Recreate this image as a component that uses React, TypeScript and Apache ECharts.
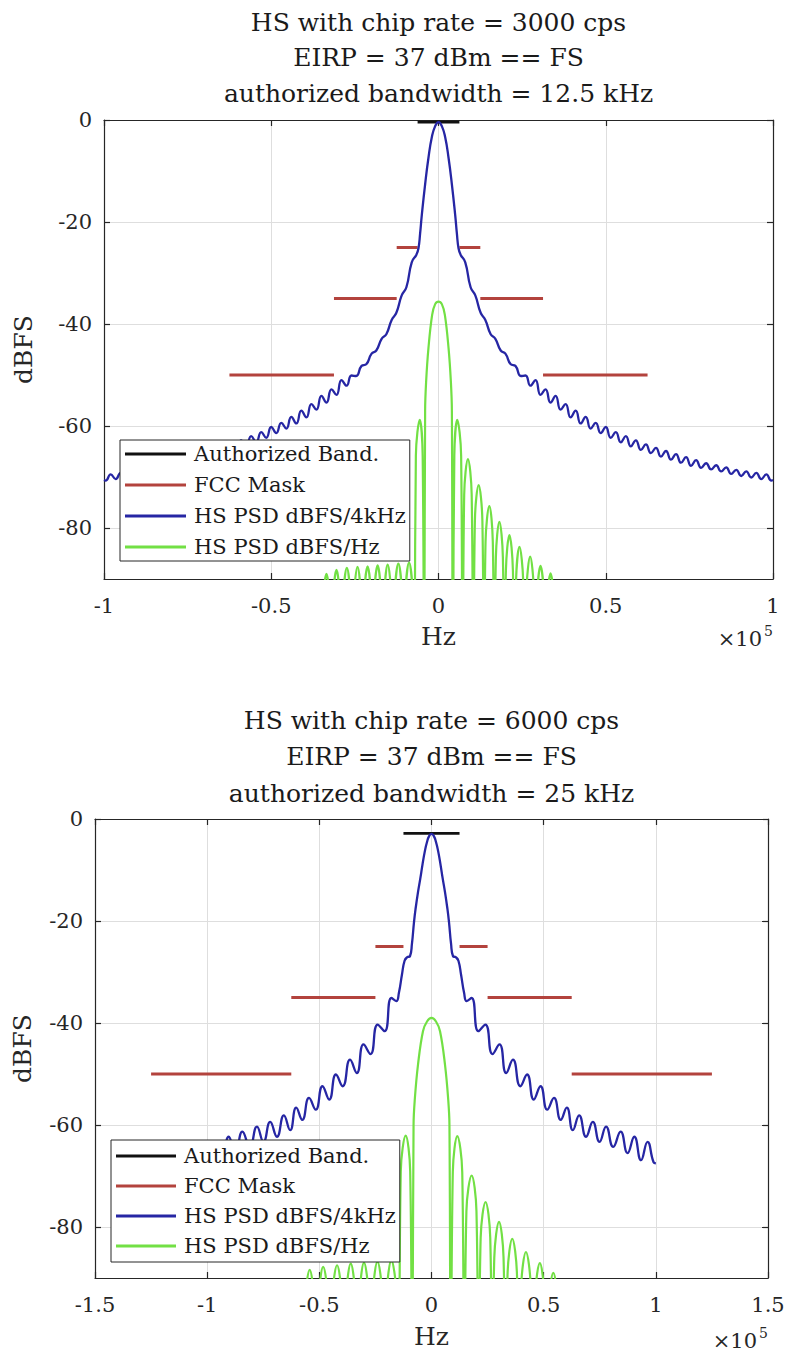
import React, { useEffect, useRef } from 'react';
import * as echarts from 'echarts';

const FONT = '"DejaVu Serif", "Liberation Serif", serif';
const AXIS_COLOR = '#262626';
const GRID_COLOR = '#dedede';
const C_BAND = '#111111';
const C_MASK = '#b3433d';
const C_BLUE = '#2626a4';
const C_GREEN = '#72e044';

const TOP_TITLE = ['HS with chip rate = 3000 cps', 'EIRP = 37 dBm == FS', 'authorized bandwidth = 12.5 kHz'];
const BOT_TITLE = ['HS with chip rate = 6000 cps', 'EIRP = 37 dBm == FS', 'authorized bandwidth = 25 kHz'];
const LEGEND_NAMES = ['Authorized Band.', 'FCC Mask', 'HS PSD dBFS/4kHz', 'HS PSD dBFS/Hz'];

// tick labels (x in units of 1e5 Hz, y in dBFS)
const TOP_X_TICKS = [-1, -0.5, 0, 0.5, 1];
const BOT_X_TICKS = [-1.5, -1, -0.5, 0, 0.5, 1, 1.5];
const Y_TICKS = [-80, -60, -40, -20, 0];
const Y_MIN = -90;
const Y_MAX = 0;

// authorized band [kHz from, kHz to, dB]
const TOP_BAND = [-6.25, 6.25, -0.4];
const BOT_BAND = [-12.5, 12.5, -2.8];

// FCC mask segments [kHz from, kHz to, dB]
const TOP_MASK = [
  [-62.5, -31.25, -50], [-31.25, -12.5, -35], [-12.5, -6.25, -25],
  [6.25, 12.5, -25], [12.5, 31.25, -35], [31.25, 62.5, -50],
];
const BOT_MASK = [
  [-125, -62.5, -50], [-62.5, -25, -35], [-25, -12.5, -25],
  [12.5, 25, -25], [25, 62.5, -35], [62.5, 125, -50],
];

// HS PSD dBFS/4kHz, one half (kHz >= 0); the curve is symmetric about 0
const BLUE_TOP_F = [0, 1, 2, 3, 4, 5, 5.5, 6, 6.6, 8, 9.6, 11, 12.6, 14, 15.6, 17, 18.6, 20, 21.6, 23, 24.6, 26,
  27.5, 29, 30.5, 32, 33.5, 35, 36.5, 38, 39.5, 41, 42.5, 44, 45.5, 47, 48.5, 50, 51.5, 53, 54.5, 56, 57.5, 59,
  60.5, 62, 63.5, 65, 66.5, 68, 69.5, 71, 72.5, 74, 75.5, 77, 78.5, 80, 81.5, 83, 84.5, 86, 87.5, 89, 90.5, 92,
  93.5, 95, 96.5, 98, 99.5, 100];
const BLUE_TOP_DB = [-0.4, -1.2, -3.4, -7.4, -12.6, -18.7, -22.3, -25.2, -26.4, -27.9, -32.8, -34.4, -37.8, -39.2,
  -42.0, -42.9, -45.2, -45.8, -47.9, -48.2, -50.2, -50.1,
  -52.1, -51.0, -53.9, -52.8, -55.4, -54.1, -56.8, -55.7, -58.3, -57.0, -59.5, -58.2, -60.5, -59.4, -61.4, -60.2,
  -62.3, -61.2, -63.2, -62.0, -64.0, -62.8, -64.7, -63.6, -65.3, -64.3, -66.0, -64.9, -66.6, -65.5, -67.2, -66.1,
  -67.8, -66.7, -68.2, -67.3, -68.5, -67.7, -68.9, -68.1, -69.4, -68.6, -69.8, -68.9, -70.1, -69.2, -70.4, -69.5,
  -70.7, -70.6];

const BLUE_BOT_F = [0, 1, 2, 3, 4, 5, 6, 7, 7.8, 8.7, 9.6, 10.8, 12, 13.2, 14.5, 15.7, 17.9,
  20.9, 24, 27.2, 30.3, 33.3, 36.3, 39.6, 42.6, 45.6, 48.6, 51.6, 54.6, 57.6, 60.3, 63, 65.8, 68.9, 71.9, 74.9,
  77.8, 81, 84.3, 87.4, 90.4, 93.4, 96.3, 99, 100];
const BLUE_BOT_DB = [-2.9, -3.3, -4.5, -6.4, -8.9, -11.7, -14.3, -17.3, -20.2, -24.4, -26.9, -27.1, -27.8, -30.6,
  -34.0, -35.7, -35.1,
  -41.6, -40.3, -46.1, -44.2, -49.8, -47.2, -52.4, -50.1, -55.0, -52.4, -57.0, -54.7, -59.0, -56.6, -61.0, -58.1,
  -62.3, -59.4, -63.3, -60.3, -64.3, -61.3, -65.5, -62.3, -66.9, -63.3, -67.3, -67.5];

// HS PSD dBFS/Hz: main lobe (one half, symmetric), then side lobes between nulls:
// peak level and the level on the lobe's steep walls, right (R) and left (L) of 0
const NULL_DB = -120;
const WALL_FRAC = 0.15; // where the wall level is read, as a fraction of the lobe width from each null
const GREEN_TOP_MAIN_F = [0, 1, 1.9, 3.0, 3.7, 4.0];
const GREEN_TOP_MAIN_DB = [-35.6, -36.1, -38.2, -44.7, -51.3, -57];
const GREEN_TOP_NULL_F = [4.3, 7.2, 10.4, 13.6, 16.7, 19.7, 22.7, 25.8, 29.0, 32.0, 35.0];
const GREEN_TOP_PEAK_F = [5.6, 8.8, 12.0, 15.2, 18.2, 21.2, 24.2, 27.4, 30.5, 33.5];
const GREEN_TOP_PEAK_R_DB = [-58.8, -66.5, -71.6, -75.7, -78.8, -81.4, -83.7, -85.6, -87.4, -88.9];
const GREEN_TOP_WALL_R_DB = [-65.8, -73.5, -78.6, -82.7, -85.8, -88.4, -90.7, -92.6, -94.4, -95.9];
const GREEN_TOP_PEAK_L_DB = [-58.8, -86.8, -87.0, -87.2, -87.3, -87.5, -87.6, -87.8, -88.2, -89.0];
const GREEN_TOP_WALL_L_DB = [-65.8, -93.8, -94.0, -94.2, -94.3, -94.5, -94.6, -94.8, -95.2, -96.0];

const GREEN_BOT_MAIN_F = [0, 2, 3.8, 6.0, 7.4, 8.0];
const GREEN_BOT_MAIN_DB = [-39.0, -39.7, -41.6, -48.1, -54.7, -60];
const GREEN_BOT_NULL_F = [8.6, 14.6, 21.0, 27.1, 33.0, 39.0, 45.2, 51.3, 57.3];
const GREEN_BOT_PEAK_F = [11.5, 17.9, 24.1, 30.1, 36.0, 42.1, 48.3, 54.3];
const GREEN_BOT_PEAK_R_DB = [-62.2, -69.9, -75.1, -79.0, -82.3, -84.9, -87.1, -89.0];
const GREEN_BOT_WALL_R_DB = [-69.2, -76.9, -82.1, -86.0, -89.3, -91.9, -94.1, -96.0];
const GREEN_BOT_PEAK_L_DB = [-62.1, -86.6, -86.8, -87.0, -87.2, -87.5, -87.8, -88.4];
const GREEN_BOT_WALL_L_DB = [-69.1, -93.6, -93.8, -94.0, -94.2, -94.5, -94.8, -95.4];

const HZ = 1000; // kHz -> Hz

function mirrored(f: number[], db: number[]) {
  const pts: number[][] = [];
  for (let i = f.length - 1; i > 0; i--) pts.push([-f[i] * HZ, db[i]]);
  for (let i = 0; i < f.length; i++) pts.push([f[i] * HZ, db[i]]);
  return pts;
}

function greenSide(sign: number, mainF: number[], mainDb: number[], nullF: number[], peakF: number[],
  peakDb: number[], wallDb: number[]) {
  const pts: number[][] = [];
  for (let i = 1; i < mainF.length; i++) pts.push([sign * mainF[i] * HZ, mainDb[i]]);
  for (let k = 0; k < peakF.length; k++) {
    const n0 = nullF[k];
    const n1 = nullF[k + 1];
    const w = (n1 - n0) * WALL_FRAC;
    pts.push([sign * n0 * HZ, NULL_DB]);
    pts.push([sign * (n0 + w) * HZ, wallDb[k]]);
    pts.push([sign * peakF[k] * HZ, peakDb[k]]);
    pts.push([sign * (n1 - w) * HZ, wallDb[k]]);
  }
  pts.push([sign * nullF[nullF.length - 1] * HZ, NULL_DB]);
  return pts;
}

function greenCurve(mainF: number[], mainDb: number[], nullF: number[], peakF: number[],
  rDb: number[], rWall: number[], lDb: number[], lWall: number[]) {
  const left = greenSide(-1, mainF, mainDb, nullF, peakF, lDb, lWall).reverse();
  const right = greenSide(1, mainF, mainDb, nullF, peakF, rDb, rWall);
  return [...left, [0, mainDb[0]], ...right];
}

function buildSeries(g: number, band: number[], mask: number[][], blueF: number[], blueDb: number[], green: number[][]) {
  const base = { type: 'line', xAxisIndex: g * 2, yAxisIndex: g * 2, symbol: 'none', showSymbol: false,
    animation: false, silent: true };
  const s: any[] = [];
  s.push({ ...base, name: LEGEND_NAMES[0], data: [[band[0] * HZ, band[2]], [band[1] * HZ, band[2]]],
    lineStyle: { color: C_BAND, width: 2.8 }, itemStyle: { color: C_BAND } });
  mask.forEach((m) => {
    s.push({ ...base, name: LEGEND_NAMES[1], data: [[m[0] * HZ, m[2]], [m[1] * HZ, m[2]]],
      lineStyle: { color: C_MASK, width: 2.8 }, itemStyle: { color: C_MASK } });
  });
  s.push({ ...base, name: LEGEND_NAMES[2], data: mirrored(blueF, blueDb), smooth: 0.5,
    lineStyle: { color: C_BLUE, width: 2.3 }, itemStyle: { color: C_BLUE } });
  s.push({ ...base, name: LEGEND_NAMES[3], data: green, smooth: 0.4,
    lineStyle: { color: C_GREEN, width: 2.2 }, itemStyle: { color: C_GREEN } });
  return s;
}

function xAxes(g: number, ticks: number[], nameGap: number) {
  const common = {
    type: 'value', gridIndex: g, min: ticks[0] * 1e5, max: ticks[ticks.length - 1] * 1e5, interval: 5e4,
    axisLine: { show: true, onZero: false, lineStyle: { color: AXIS_COLOR, width: 1.2 } },
    axisTick: { show: true, inside: true, length: 6, lineStyle: { color: AXIS_COLOR, width: 1.2 } },
  };
  return [
    { ...common, position: 'bottom',
      axisLabel: { show: true, margin: 16, fontSize: 21, fontFamily: FONT, color: AXIS_COLOR,
        formatter: (v: number) => String(Math.round(v / 1e4) / 10) },
      splitLine: { show: true, lineStyle: { color: GRID_COLOR, width: 1 } },
      name: 'Hz', nameLocation: 'middle', nameGap,
      nameTextStyle: { fontSize: 25, fontFamily: FONT, color: AXIS_COLOR } },
    { ...common, position: 'top', axisLabel: { show: false }, splitLine: { show: false } },
  ];
}

function yAxes(g: number, nameGap: number) {
  const common = {
    type: 'value', gridIndex: g, min: Y_MIN, max: Y_MAX,
    axisLine: { show: true, onZero: false, lineStyle: { color: AXIS_COLOR, width: 1.2 } },
    axisTick: { show: true, inside: true, length: 6, customValues: Y_TICKS, lineStyle: { color: AXIS_COLOR, width: 1.2 } },
  };
  return [
    { ...common, position: 'left',
      axisLabel: { show: true, customValues: Y_TICKS, margin: 12, fontSize: 21, fontFamily: FONT, color: AXIS_COLOR },
      splitLine: { show: true, lineStyle: { color: GRID_COLOR, width: 1 } },
      name: 'dBFS', nameLocation: 'middle', nameGap, nameRotate: 90,
      nameTextStyle: { fontSize: 25, fontFamily: FONT, color: AXIS_COLOR } },
    { ...common, position: 'right', axisLabel: { show: false }, splitLine: { show: false } },
  ];
}

function titleTexts(lines: string[], cx: number, ys: number[]) {
  return lines.map((t, i) => ({
    type: 'text', x: cx, y: ys[i], silent: true,
    style: { text: t, fontSize: 25, fontFamily: FONT, fill: '#1a1a1a', align: 'center', verticalAlign: 'middle',
      textAlign: 'center', textVerticalAlign: 'middle' },
  }));
}

function expText(x: number, y: number) {
  return [
    { type: 'text', x, y, silent: true,
      style: { text: '×10', fontSize: 21, fontFamily: FONT, fill: AXIS_COLOR, align: 'right', verticalAlign: 'middle',
        textAlign: 'right', textVerticalAlign: 'middle' } },
    { type: 'text', x: x + 2, y: y - 8, silent: true,
      style: { text: '5', fontSize: 14, fontFamily: FONT, fill: AXIS_COLOR, align: 'left', verticalAlign: 'middle',
        textAlign: 'left', textVerticalAlign: 'middle' } },
  ];
}

function legendCfg(left: number, top: number, itemGap: number, padding: number[], itemWidth: number) {
  return {
    data: LEGEND_NAMES, orient: 'vertical', left, top, padding, itemGap, itemWidth, itemHeight: 3,
    icon: 'rect', selectedMode: false, backgroundColor: '#ffffff', borderColor: AXIS_COLOR, borderWidth: 1,
    borderRadius: 0,
    textStyle: { fontSize: 21, fontFamily: FONT, color: '#1a1a1a', lineHeight: 24, padding: [0, 0, 0, 3] }, z: 10,
  };
}

export default function App() {
  const ref = useRef<HTMLDivElement>(null);
  useEffect(() => {
    if (!ref.current) return;
    const chart = echarts.init(ref.current, null, { renderer: 'svg' });
    const greenTop = greenCurve(GREEN_TOP_MAIN_F, GREEN_TOP_MAIN_DB, GREEN_TOP_NULL_F, GREEN_TOP_PEAK_F,
      GREEN_TOP_PEAK_R_DB, GREEN_TOP_WALL_R_DB, GREEN_TOP_PEAK_L_DB, GREEN_TOP_WALL_L_DB);
    const greenBot = greenCurve(GREEN_BOT_MAIN_F, GREEN_BOT_MAIN_DB, GREEN_BOT_NULL_F, GREEN_BOT_PEAK_F,
      GREEN_BOT_PEAK_R_DB, GREEN_BOT_WALL_R_DB, GREEN_BOT_PEAK_L_DB, GREEN_BOT_WALL_L_DB);
    const option: any = {
      animation: false,
      backgroundColor: '#ffffff',
      textStyle: { fontFamily: FONT },
      grid: [
        { left: 104, top: 120, width: 669, height: 459, containLabel: false },
        { left: 95, top: 819, width: 673, height: 459, containLabel: false },
      ],
      xAxis: [...xAxes(0, TOP_X_TICKS, 45), ...xAxes(1, BOT_X_TICKS, 46)],
      yAxis: [...yAxes(0, 68), ...yAxes(1, 60)],
      legend: [
        legendCfg(120, 440, 7, [2, 4, 2, 5], 61),
        legendCfg(111, 1140, 6, [4, 4, 4, 5], 60),
      ],
      series: [
        ...buildSeries(0, TOP_BAND, TOP_MASK, BLUE_TOP_F, BLUE_TOP_DB, greenTop),
        ...buildSeries(1, BOT_BAND, BOT_MASK, BLUE_BOT_F, BLUE_BOT_DB, greenBot),
      ],
      graphic: [
        ...titleTexts(TOP_TITLE, 438.5, [22, 57.5, 93]),
        ...titleTexts(BOT_TITLE, 431.5, [720, 756.5, 793]),
        ...expText(762, 639),
        ...expText(757, 1341),
      ],
    };
    chart.setOption(option);
    return () => chart.dispose();
  }, []);
  return (
    <div
      ref={ref}
      style={{ position: 'fixed', left: 0, top: 0, width: 789, height: 1353, background: '#ffffff' }}
    />
  );
}
